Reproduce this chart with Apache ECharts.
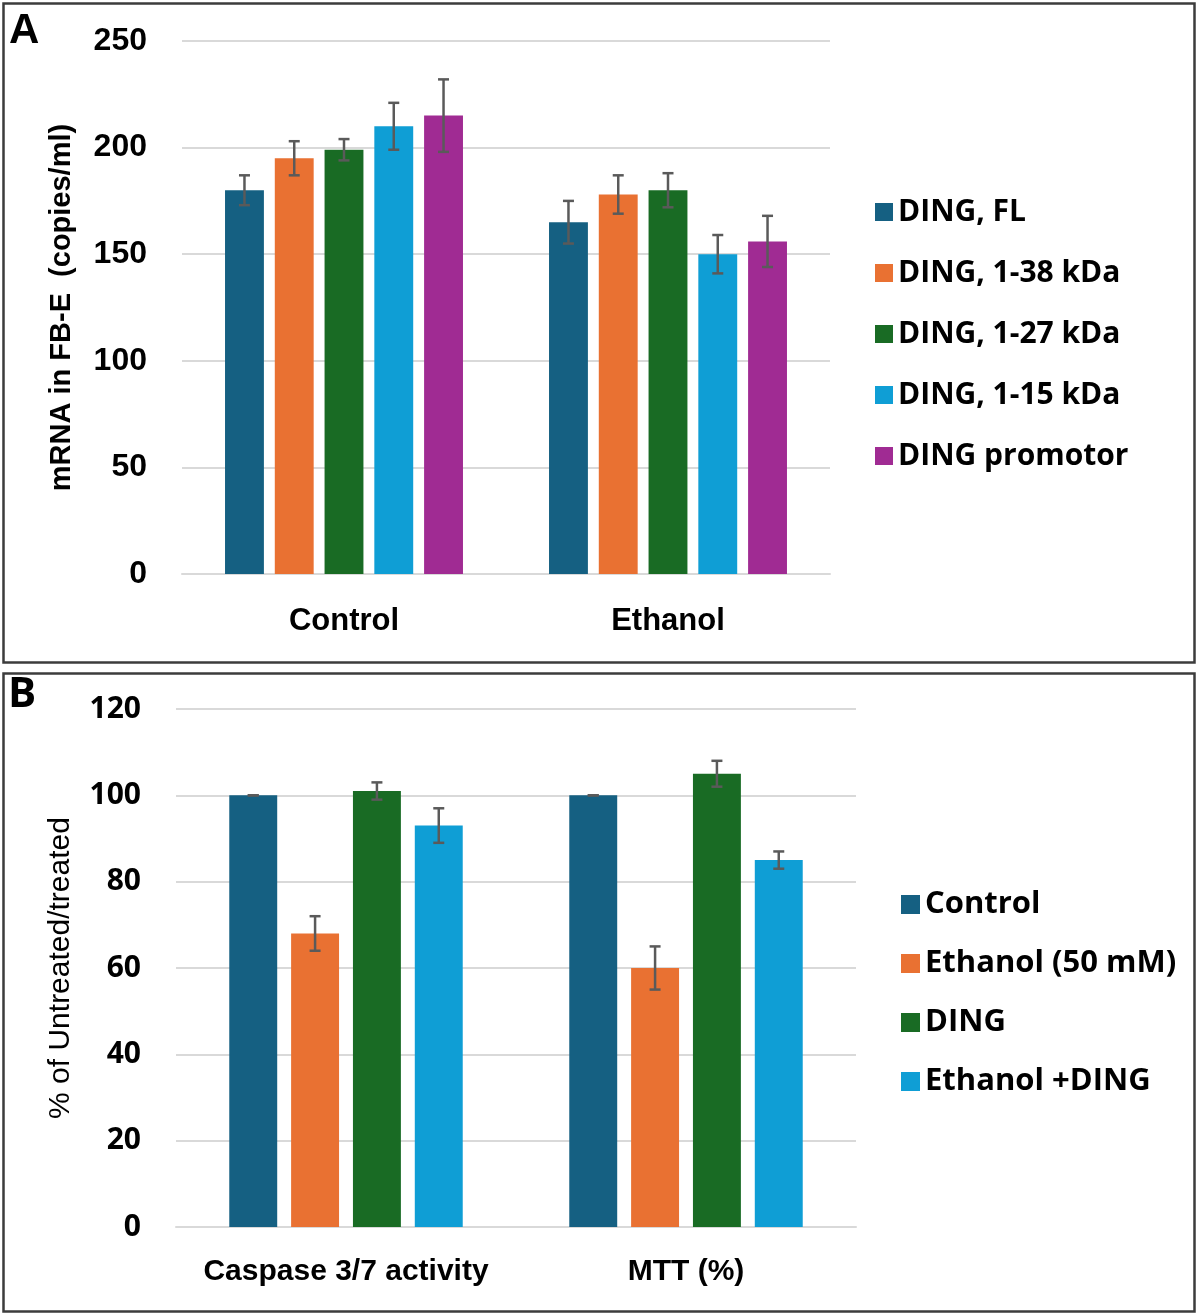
<!DOCTYPE html>
<html><head><meta charset="utf-8">
<script src="https://cdn.jsdelivr.net/npm/echarts@6/dist/echarts.min.js"></script>
<style>html,body{margin:0;padding:0;background:#fff}#c{width:1200px;height:1314px}</style>
</head><body><div id="c"></div>
<script>
// ---------- Panel A data ----------
const catsA = ['Control', 'Ethanol'];
const namesA = ['DING, FL', 'DING, 1-38 kDa', 'DING, 1-27 kDa', 'DING, 1-15 kDa', 'DING promotor'];
const dingFL   = [180, 165];  const errFL   = [7, 10];
const ding138  = [195, 178];  const err138  = [8, 9];
const ding127  = [199, 180];  const err127  = [5, 8];
const ding115  = [210, 150];  const err115  = [11, 9];
const dingProm = [215, 156];  const errProm = [17, 12];
const ticksA = {min: 0, max: 250, interval: 50};

// ---------- Panel B data ----------
const catsB = ['Caspase 3/7 activity', 'MTT (%)'];
const namesB = ['Control', 'Ethanol (50 mM)', 'DING', 'Ethanol +DING'];
const ctrlB    = [100, 100];  const errCtrlB    = [0, 0];
const ethB     = [68, 60];    const errEthB     = [4, 5];
const dingB    = [101, 105];  const errDingB    = [2, 3];
const ethDingB = [93, 85];    const errEthDingB = [4, 2];
const ticksB = {min: 0, max: 120, interval: 20};

const colors5 = ['#156082', '#E97132', '#196B24', '#0F9ED5', '#A02B93'];

const valsA = [dingFL, ding138, ding127, ding115, dingProm];
const errsA = [errFL, err138, err127, err115, errProm];
const valsB = [ctrlB, ethB, dingB, ethDingB];
const errsB = [errCtrlB, errEthB, errDingB, errEthDingB];

const BAR_A = 0.12, GAP_A = 0.28;
const BAR_B = 0.141, GAP_B = 0.29;

function errSeries(name, xi, vals, errs, idx, n, barPct, gapPct) {
  return {
    type: 'custom', name: name, xAxisIndex: xi, yAxisIndex: xi, z: 10, silent: true,
    data: vals.map((v, i) => [i, v, errs[i]]),
    encode: {x: 0, y: 1},
    renderItem: function (params, api) {
      const ci = api.value(0), v = api.value(1), e = api.value(2);
      const band = api.size([1, 0])[0];
      const bw = band * barPct, gap = bw * gapPct;
      const gw = n * bw + (n - 1) * gap;
      const c = api.coord([ci, v]);
      const cx = c[0] - gw / 2 + idx * (bw + gap) + bw / 2;
      const yt = api.coord([ci, v + e])[1], yb = api.coord([ci, v - e])[1];
      const cap = 5.5;
      const st = {stroke: '#5a5a5a', lineWidth: 2.5};
      return {type: 'group', children: [
        {type: 'line', shape: {x1: cx, y1: yt, x2: cx, y2: yb}, style: st},
        {type: 'line', shape: {x1: cx - cap, y1: yt, x2: cx + cap, y2: yt}, style: st},
        {type: 'line', shape: {x1: cx - cap, y1: yb, x2: cx + cap, y2: yb}, style: st}
      ]};
    }
  };
}

const series = [];
namesA.forEach((nm, i) => {
  series.push({type: 'bar', name: nm, xAxisIndex: 0, yAxisIndex: 0, data: valsA[i],
    barWidth: (BAR_A * 100) + '%', barGap: (GAP_A * 100) + '%',
    itemStyle: {color: colors5[i]}});
});
namesB.forEach((nm, i) => {
  series.push({type: 'bar', name: nm, xAxisIndex: 1, yAxisIndex: 1, data: valsB[i],
    barWidth: (BAR_B * 100) + '%', barGap: (GAP_B * 100) + '%',
    itemStyle: {color: colors5[i]}});
});
namesA.forEach((nm, i) => series.push(errSeries('errA' + i, 0, valsA[i], errsA[i], i, namesA.length, BAR_A, GAP_A)));
namesB.forEach((nm, i) => series.push(errSeries('errB' + i, 1, valsB[i], errsB[i], i, namesB.length, BAR_B, GAP_B)));

const arialB = {fontFamily: 'Liberation Sans, Arial, sans-serif', fontWeight: 'bold', color: '#000'};
const openB = {fontFamily: 'Open Sans, sans-serif', fontWeight: 'bold', color: '#000'};

const option = {
  animation: false,
  backgroundColor: '#fff',
  grid: [
    {left: 182, top: 41, width: 648, height: 533},
    {left: 176, top: 709, width: 680, height: 518}
  ],
  xAxis: [
    {type: 'category', gridIndex: 0, data: catsA,
      axisLine: {lineStyle: {color: '#d9d9d9', width: 2}}, axisTick: {show: false},
      axisLabel: Object.assign({fontSize: 31, margin: 32, interval: 0}, arialB)},
    {type: 'category', gridIndex: 1, data: catsB,
      axisLine: {lineStyle: {color: '#d9d9d9', width: 2}}, axisTick: {show: false},
      axisLabel: Object.assign({fontSize: 30, margin: 30, interval: 0, hideOverlap: false}, arialB)}
  ],
  yAxis: [
    {type: 'value', gridIndex: 0, min: ticksA.min, max: ticksA.max, interval: ticksA.interval,
      name: 'mRNA in FB-E  (copies/ml)', nameLocation: 'middle', nameGap: 106, nameRotate: 90,
      nameTextStyle: Object.assign({fontSize: 29}, arialB),
      axisLine: {show: false}, axisTick: {show: false},
      splitLine: {lineStyle: {color: '#d9d9d9', width: 2}},
      axisLabel: Object.assign({fontSize: 32, margin: 35}, arialB)},
    {type: 'value', gridIndex: 1, min: ticksB.min, max: ticksB.max, interval: ticksB.interval,
      name: '% of Untreated/treated', nameLocation: 'middle', nameGap: 100, nameRotate: 90,
      nameTextStyle: {fontFamily: 'Liberation Sans, Arial, sans-serif', fontSize: 30, color: '#000'},
      axisLine: {show: false}, axisTick: {show: false},
      splitLine: {lineStyle: {color: '#d9d9d9', width: 2}},
      axisLabel: Object.assign({fontSize: 30, margin: 35}, openB)}
  ],
  legend: [
    {data: namesA, orient: 'vertical', left: 875, top: 197, padding: 0, itemGap: 31,
      icon: 'rect', itemWidth: 18, itemHeight: 18, selectedMode: false,
      textStyle: Object.assign({fontSize: 30, lineHeight: 30}, openB)},
    {data: namesB, orient: 'vertical', left: 901, top: 889, padding: 0, itemGap: 28,
      icon: 'rect', itemWidth: 19, itemHeight: 19, selectedMode: false,
      textStyle: Object.assign({fontSize: 31, lineHeight: 31}, openB)}
  ],
  graphic: [
    {type: 'rect', shape: {x: 3.5, y: 3.5, width: 1191, height: 659},
      style: {fill: 'none', stroke: '#3c3c3c', lineWidth: 2.5}, silent: true},
    {type: 'rect', shape: {x: 3.5, y: 673.5, width: 1191, height: 638},
      style: {fill: 'none', stroke: '#3c3c3c', lineWidth: 2.5}, silent: true},
    {type: 'text', left: 9, top: 10,
      style: {text: 'A', fontSize: 42, fontWeight: 'bold', fontFamily: 'Liberation Sans, Arial, sans-serif', fill: '#000'}},
    {type: 'text', left: 8, top: 674,
      style: {text: 'B', fontSize: 42, fontWeight: 'bold', fontFamily: 'Open Sans, sans-serif', fill: '#000'}}
  ],
  series: series
};

const chart = echarts.init(document.getElementById('c'), null, {renderer: 'canvas'});
chart.setOption(option);
</script>
</body></html>
